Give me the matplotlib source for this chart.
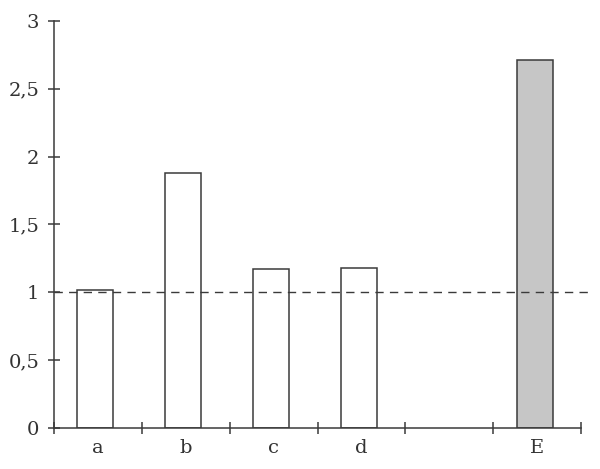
import numpy as np
import matplotlib
matplotlib.use("Agg")
import matplotlib.pyplot as plt
from matplotlib.ticker import FuncFormatter

categories = ["a", "b", "c", "d", "", "E"]
values = [1.02, 1.88, 1.17, 1.18, np.nan, 2.71]
fills = ["white", "white", "white", "white", "white", "#c6c6c6"]
reference = 1.0

plt.rcParams["font.family"] = ["DejaVu Serif"]
line_col = "#3a3a3a"

fig = plt.figure(figsize=(6, 4.69), dpi=100)
ax = fig.add_axes([54 / 600, 1 - 428 / 469, (590 - 54) / 600, (428 - 21) / 469])

x = np.arange(len(categories))
ax.bar(x - 0.03, values, width=0.41, color=fills, edgecolor=line_col, linewidth=1.1, zorder=2)
ax.axhline(reference, color=line_col, linestyle=(0, (6, 4.5)), linewidth=1.0, zorder=3)

ax.set_xlim(-0.5, len(categories) - 0.4)
ax.set_ylim(0, 3)
ax.spines["top"].set_visible(False)
ax.spines["right"].set_visible(False)
ax.spines["bottom"].set_bounds(-0.5, len(categories) - 0.5)
for s in ("left", "bottom"):
    ax.spines[s].set_color(line_col)
    ax.spines[s].set_linewidth(1.1)

ax.set_yticks(np.arange(0, 3.01, 0.5))
ax.yaxis.set_major_formatter(FuncFormatter(lambda v, p: f"{v:g}".replace(".", ",")))
ax.set_xticks(np.arange(len(categories) + 1) - 0.5)
ax.set_xticklabels([])
ax.set_xticks(x, categories, minor=True)
ax.tick_params(axis="both", which="major", direction="inout", length=9, width=1.1,
               color=line_col, labelsize=14, labelcolor="#333333", pad=6)
ax.tick_params(axis="x", which="minor", length=0, labelsize=14, labelcolor="#333333", pad=8)

fig.savefig("out.png", dpi=100)
